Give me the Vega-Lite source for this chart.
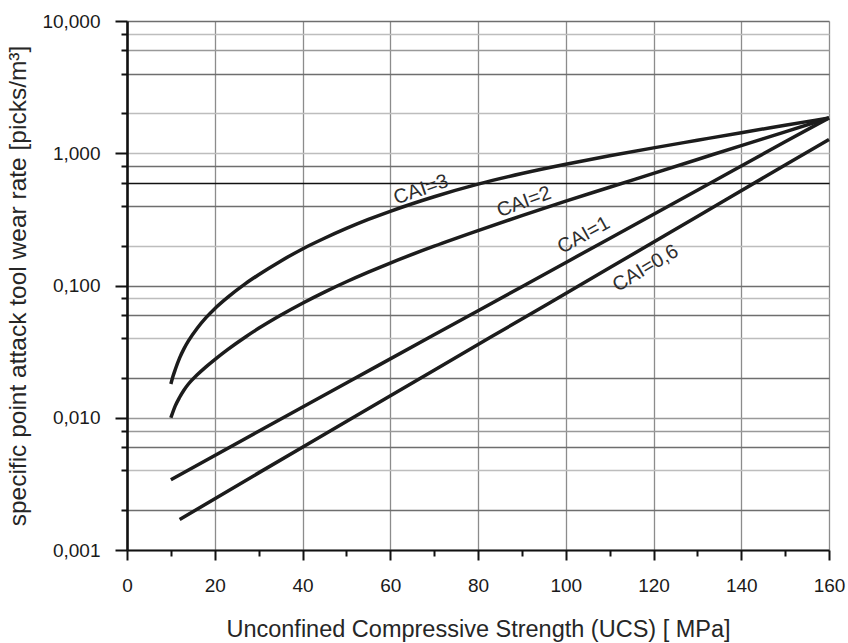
{
  "$schema": "https://vega.github.io/schema/vega-lite/v6.json",
  "width": 702,
  "height": 529,
  "autosize": {"type": "none"},
  "padding": {"left": 127, "top": 21, "right": 19, "bottom": 93},
  "background": "white",
  "config": {
    "view": {"stroke": null},
    "font": "Liberation Sans"
  },
  "datasets": {
    "wear": [
      {"cai": "3", "ucs": 10, "rate": 0.018},
      {"cai": "3", "ucs": 10.5, "rate": 0.02065},
      {"cai": "3", "ucs": 11, "rate": 0.02317},
      {"cai": "3", "ucs": 12, "rate": 0.02838},
      {"cai": "3", "ucs": 13, "rate": 0.03334},
      {"cai": "3", "ucs": 14, "rate": 0.03811},
      {"cai": "3", "ucs": 16, "rate": 0.04753},
      {"cai": "3", "ucs": 18, "rate": 0.05715},
      {"cai": "3", "ucs": 20, "rate": 0.06683},
      {"cai": "3", "ucs": 23, "rate": 0.08166},
      {"cai": "3", "ucs": 27, "rate": 0.1033},
      {"cai": "3", "ucs": 30, "rate": 0.1206},
      {"cai": "3", "ucs": 35, "rate": 0.1528},
      {"cai": "3", "ucs": 40, "rate": 0.189},
      {"cai": "3", "ucs": 45, "rate": 0.2275},
      {"cai": "3", "ucs": 50, "rate": 0.27},
      {"cai": "3", "ucs": 55, "rate": 0.3158},
      {"cai": "3", "ucs": 60, "rate": 0.3641},
      {"cai": "3", "ucs": 70, "rate": 0.4692},
      {"cai": "3", "ucs": 80, "rate": 0.5841},
      {"cai": "3", "ucs": 90, "rate": 0.7022},
      {"cai": "3", "ucs": 100, "rate": 0.8252},
      {"cai": "3", "ucs": 110, "rate": 0.9561},
      {"cai": "3", "ucs": 120, "rate": 1.098},
      {"cai": "3", "ucs": 130, "rate": 1.254},
      {"cai": "3", "ucs": 140, "rate": 1.431},
      {"cai": "3", "ucs": 150, "rate": 1.627},
      {"cai": "3", "ucs": 160, "rate": 1.85},
      {"cai": "2", "ucs": 10, "rate": 0.01},
      {"cai": "2", "ucs": 11, "rate": 0.0123},
      {"cai": "2", "ucs": 12, "rate": 0.01429},
      {"cai": "2", "ucs": 13, "rate": 0.01622},
      {"cai": "2", "ucs": 14, "rate": 0.01799},
      {"cai": "2", "ucs": 16, "rate": 0.02113},
      {"cai": "2", "ucs": 18, "rate": 0.02427},
      {"cai": "2", "ucs": 20, "rate": 0.02754},
      {"cai": "2", "ucs": 23, "rate": 0.03289},
      {"cai": "2", "ucs": 27, "rate": 0.04083},
      {"cai": "2", "ucs": 30, "rate": 0.04742},
      {"cai": "2", "ucs": 35, "rate": 0.05957},
      {"cai": "2", "ucs": 40, "rate": 0.07345},
      {"cai": "2", "ucs": 45, "rate": 0.08913},
      {"cai": "2", "ucs": 50, "rate": 0.1067},
      {"cai": "2", "ucs": 55, "rate": 0.1262},
      {"cai": "2", "ucs": 60, "rate": 0.1479},
      {"cai": "2", "ucs": 70, "rate": 0.1982},
      {"cai": "2", "ucs": 80, "rate": 0.26},
      {"cai": "2", "ucs": 90, "rate": 0.3373},
      {"cai": "2", "ucs": 100, "rate": 0.4345},
      {"cai": "2", "ucs": 110, "rate": 0.5534},
      {"cai": "2", "ucs": 120, "rate": 0.7047},
      {"cai": "2", "ucs": 130, "rate": 0.8974},
      {"cai": "2", "ucs": 140, "rate": 1.143},
      {"cai": "2", "ucs": 150, "rate": 1.452},
      {"cai": "2", "ucs": 160, "rate": 1.85},
      {"cai": "1", "ucs": 10, "rate": 0.0034},
      {"cai": "1", "ucs": 30, "rate": 0.0079},
      {"cai": "1", "ucs": 50, "rate": 0.0183},
      {"cai": "1", "ucs": 70, "rate": 0.0424},
      {"cai": "1", "ucs": 90, "rate": 0.098},
      {"cai": "1", "ucs": 110, "rate": 0.227},
      {"cai": "1", "ucs": 130, "rate": 0.525},
      {"cai": "1", "ucs": 150, "rate": 1.22},
      {"cai": "1", "ucs": 160, "rate": 1.85},
      {"cai": "0,6", "ucs": 12, "rate": 0.0017},
      {"cai": "0,6", "ucs": 30, "rate": 0.00383},
      {"cai": "0,6", "ucs": 50, "rate": 0.00935},
      {"cai": "0,6", "ucs": 70, "rate": 0.0229},
      {"cai": "0,6", "ucs": 90, "rate": 0.0558},
      {"cai": "0,6", "ucs": 110, "rate": 0.136},
      {"cai": "0,6", "ucs": 130, "rate": 0.333},
      {"cai": "0,6", "ucs": 150, "rate": 0.815},
      {"cai": "0,6", "ucs": 160, "rate": 1.27}
    ]
  },
  "encoding": {
    "x": {
      "field": "ucs",
      "type": "quantitative",
      "scale": {"domain": [0, 160], "nice": false, "zero": false},
      "axis": {
        "title": "Unconfined Compressive Strength (UCS) [ MPa]",
        "values": [0, 10, 20, 30, 40, 50, 60, 70, 80, 90, 100, 110, 120, 130, 140, 150, 160],
        "labelExpr": "datum.value % 20 == 0 ? datum.label : ''",
        "labelFlush": false,
        "labelOverlap": false,
        "labelFontSize": 19,
        "labelColor": "#1a1a1a",
        "labelPadding": 16,
        "tickSize": {"condition": {"test": "datum.value % 20 != 0", "value": 6}, "value": 10},
        "tickColor": "#111",
        "tickWidth": 2,
        "domainColor": "#111",
        "domainWidth": 2.2,
        "grid": true,
        "gridColor": "#8c8c8c",
        "gridWidth": 1.3,
        "gridOpacity": {"condition": {"test": "datum.value % 20 != 0", "value": 0}, "value": 1},
        "titleFontSize": 23.5,
        "titleFontWeight": "normal",
        "titleColor": "#262626",
        "titlePadding": 22
      }
    },
    "y": {
      "field": "rate",
      "type": "quantitative",
      "scale": {"type": "log", "domain": [0.001, 10], "nice": false},
      "axis": {
        "title": "specific point attack tool wear rate [picks/m³]",
        "values": [0.001, 0.002, 0.004, 0.006, 0.008, 0.01, 0.02, 0.04, 0.06, 0.08, 0.1, 0.2, 0.4, 0.6, 0.8, 1, 2, 4, 6, 8, 10],
        "labelExpr": "abs(log(datum.value) / LN10 - round(log(datum.value) / LN10)) < 1e-6 ? replace(format(datum.value, '.3f'), '.', ',') : ''",
        "labelFlush": false,
        "labelOverlap": false,
        "labelFontSize": 19,
        "labelColor": "#1a1a1a",
        "labelPadding": 15,
        "tickSize": {"condition": {"test": "abs(log(datum.value) / LN10 - round(log(datum.value) / LN10)) > 1e-6", "value": 6}, "value": 12},
        "tickColor": "#111",
        "tickWidth": 2,
        "domainColor": "#111",
        "domainWidth": 2.6,
        "grid": true,
        "gridWidth": 1.4,
        "gridColor": {
          "condition": [
            {"test": "datum.value == 0.6", "value": "#111111"},
            {"test": "indexof([10, 4, 0.8, 0.4, 0.1, 0.06, 0.02, 0.006, 0.002], datum.value) >= 0", "value": "#6e6e6e"},
            {"test": "indexof([6, 0.01, 0.008], datum.value) >= 0", "value": "#999999"}
          ],
          "value": "#bdbdbd"
        },
        "titleFontSize": 24.5,
        "titleFontWeight": "normal",
        "titleColor": "#262626",
        "titlePadding": 11
      }
    }
  },
  "layer": [
    {
      "data": {"name": "wear"},
      "mark": {"type": "line", "color": "#1c1c1c", "strokeWidth": 3.5, "strokeJoin": "round", "interpolate": "monotone"},
      "encoding": {
        "detail": {"field": "cai", "type": "nominal"}
      }
    },
    {
      "data": {"values": [{"ucs": 67, "rate": 0.53, "label": "CAI=3"}]},
      "mark": {"type": "text", "angle": 341, "fontSize": 20, "color": "#2e2e2e", "align": "center", "baseline": "middle"},
      "encoding": {"text": {"field": "label"}}
    },
    {
      "data": {"values": [{"ucs": 90.5, "rate": 0.428, "label": "CAI=2"}]},
      "mark": {"type": "text", "angle": 340, "fontSize": 20, "color": "#2e2e2e", "align": "center", "baseline": "middle"},
      "encoding": {"text": {"field": "label"}}
    },
    {
      "data": {"values": [{"ucs": 104.1, "rate": 0.24, "label": "CAI=1"}]},
      "mark": {"type": "text", "angle": 331, "fontSize": 20, "color": "#2e2e2e", "align": "center", "baseline": "middle"},
      "encoding": {"text": {"field": "label"}}
    },
    {
      "data": {"values": [{"ucs": 118.2, "rate": 0.135, "label": "CAI=0,6"}]},
      "mark": {"type": "text", "angle": 329, "fontSize": 20, "color": "#2e2e2e", "align": "center", "baseline": "middle"},
      "encoding": {"text": {"field": "label"}}
    }
  ]
}
